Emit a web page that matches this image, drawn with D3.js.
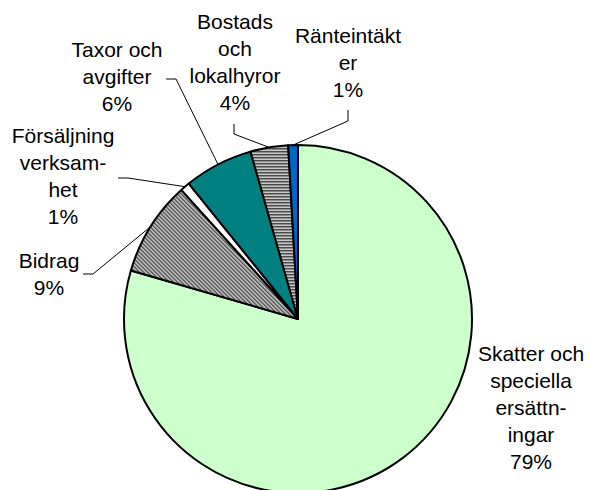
<!DOCTYPE html>
<html>
<head>
<meta charset="utf-8">
<script src="https://cdn.jsdelivr.net/npm/d3@7"></script>
<style>
  html, body { margin: 0; padding: 0; background: #fff; }
  svg { display: block; }
  text { font-family: "Liberation Sans", Arial, sans-serif; font-size: 21px; fill: #000; }
</style>
</head>
<body>
<svg id="chart" width="589" height="490"></svg>
<script>
// ---- data ----
const categories = ["Skatter och speciella ersättningar", "Bidrag", "Försäljning verksamhet", "Taxor och avgifter", "Bostads och lokalhyror", "Ränteintäkter"];
const labelLines = [
  ["Skatter och", "speciella", "ersättn-", "ingar"],
  ["Bidrag"],
  ["Försäljning", "verksam-", "het"],
  ["Taxor och", "avgifter"],
  ["Bostads", "och", "lokalhyror"],
  ["Ränteintäkt", "er"]
];
const values = [79.49, 8.81, 0.9, 6.4, 3.5, 0.9];

// ---- layout / style ----
const W = 589, H = 490;
const cx = 298, cy = 319, R = 174;
const lineH = 27;
const fills = ["#CCFFCC", "url(#diag)", "#FFFFFF", "#008080", "url(#hstripe)", "#0066CC"];
// label anchor: center x, first baseline y; leader: start point(s) then goes to slice rim
const labelLayout = [
  { x: 531, y: 361, leader: null },
  { x: 49, y: 268, leader: [[83, 274], [93, 274]] },
  { x: 63, y: 143, leader: [[118, 178], [128, 178]] },
  { x: 117, y: 57, leader: [[166, 79], [176, 79]] },
  { x: 235, y: 29, leader: [[234, 124], [234, 134]] },
  { x: 348, y: 43, leader: [[348, 110], [348, 121]] }
];

const svg = d3.select("#chart");
const defs = svg.append("defs");

// diagonal fine pattern for Bidrag
const pd = defs.append("pattern").attr("id", "diag").attr("patternUnits", "userSpaceOnUse")
  .attr("width", 4).attr("height", 4);
pd.append("rect").attr("width", 4).attr("height", 4).attr("fill", "#b4b4b4");
[[0,0],[1,1],[2,2],[3,3],[1,0],[2,1],[3,2],[0,3]].forEach(([x,y], i) => {
  pd.append("rect").attr("x", x).attr("y", y).attr("width", 1).attr("height", 1)
    .attr("fill", i < 4 ? "#555" : "#7a7a7a");
});

// horizontal stripe pattern for Bostads
const ph = defs.append("pattern").attr("id", "hstripe").attr("patternUnits", "userSpaceOnUse")
  .attr("width", 4).attr("height", 3);
ph.append("rect").attr("width", 4).attr("height", 3).attr("fill", "#c8c8c8");
ph.append("rect").attr("y", 0).attr("width", 4).attr("height", 1).attr("fill", "#4a4a4a");
ph.append("rect").attr("y", 1).attr("width", 4).attr("height", 1).attr("fill", "#8c8c8c");

const pie = d3.pie().sort(null).value(d => d);
const arcs = pie(values);
const arc = d3.arc().innerRadius(0).outerRadius(R);
const rimArc = d3.arc().innerRadius(R).outerRadius(R);

const g = svg.append("g").attr("transform", `translate(${cx},${cy})`);

g.selectAll("path.slice").data(arcs).enter().append("path")
  .attr("class", "slice")
  .attr("d", arc)
  .attr("fill", (d, i) => fills[i])
  .attr("stroke", "#000")
  .attr("stroke-width", 2)
  .attr("stroke-linejoin", "round");

// leader lines
const fmt = v => Math.round(v) + "%";
arcs.forEach((d, i) => {
  const L = labelLayout[i];
  if (!L.leader) return;
  const c = rimArc.centroid(d);
  const pts = L.leader.concat([[cx + c[0], cy + c[1]]]);
  svg.append("path")
    .attr("d", d3.line()(pts))
    .attr("fill", "none")
    .attr("stroke", "#000")
    .attr("stroke-width", 1);
});

// labels
arcs.forEach((d, i) => {
  const L = labelLayout[i];
  const lines = labelLines[i].concat([fmt(values[i])]);
  const t = svg.append("text").attr("text-anchor", "middle");
  lines.forEach((s, k) => {
    t.append("tspan").attr("x", L.x).attr("y", L.y + k * lineH).text(s);
  });
});
</script>
</body>
</html>
